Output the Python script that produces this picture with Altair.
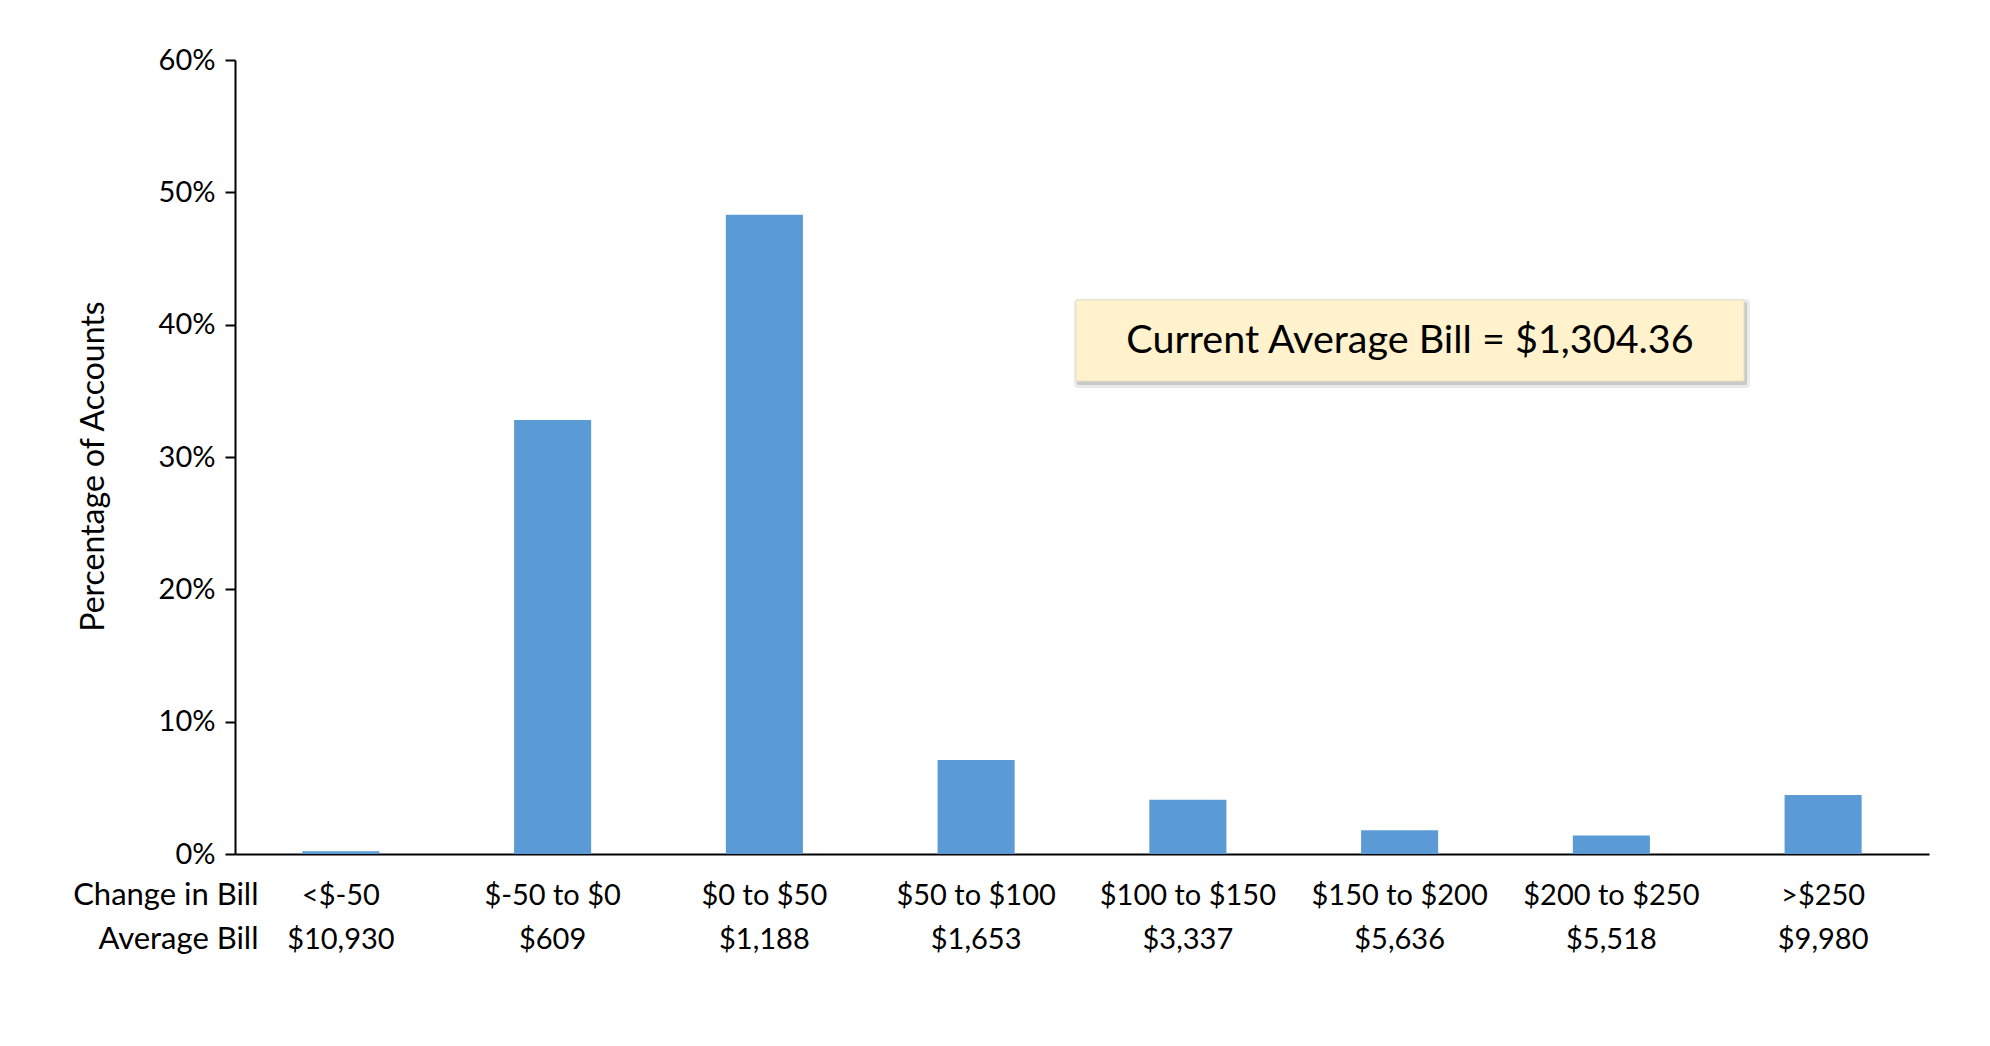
import altair as alt
import pandas as pd

change_in_bill = ["<$-50", "$-50 to $0", "$0 to $50", "$50 to $100",
                  "$100 to $150", "$150 to $200", "$200 to $250", ">$250"]
average_bill = ["$10,930", "$609", "$1,188", "$1,653",
                "$3,337", "$5,636", "$5,518", "$9,980"]
pct_accounts = [0.002, 0.328, 0.483, 0.071, 0.041, 0.018, 0.014, 0.0445]
callout_text = ["Current Average Bill = $1,304.36"]

df = pd.DataFrame({
    "label": [f"{c}|{a}" for c, a in zip(change_in_bill, average_bill)],
    "pct": pct_accounts,
})
order = list(df["label"])

FONT = "Lato"

bars = alt.Chart(df).mark_bar(color="#5B9BD5").encode(
    x=alt.X(
        "label:N",
        sort=order,
        scale=alt.Scale(paddingInner=0.636, paddingOuter=0.318),
        axis=alt.Axis(
            title=["Change in Bill", "Average Bill"],
            titleX=23, titleY=26, titleAlign="right", titleBaseline="top",
            titleAngle=0, titleFont=FONT, titleFontSize=31, titleFontWeight="normal",
            titleColor="black", titleLineHeight=44,
            labelExpr="split(datum.label, '|')",
            labelFont=FONT, labelFontSize=29, labelColor="black",
            labelLineHeight=44, labelBaseline="top", labelPadding=27,
            labelAngle=0, labelAlign="center",
            ticks=False, domainColor="black", domainWidth=2,
        ),
    ),
    y=alt.Y(
        "pct:Q",
        scale=alt.Scale(domain=[0, 0.6], nice=False),
        axis=alt.Axis(
            title="Percentage of Accounts",
            titleFont=FONT, titleFontSize=32, titleFontWeight="normal",
            titleColor="black", titleX=-142, titleY=406, titleBaseline="middle",
            titleAlign="center", titleAngle=270,
            format=".0%", values=[0, 0.1, 0.2, 0.3, 0.4, 0.5, 0.6],
            labelFont=FONT, labelFontSize=29, labelColor="black",
            labelPadding=10, tickSize=10, tickColor="black", tickWidth=2,
            domainColor="black", domainWidth=2, grid=False,
        ),
    ),
)

callout_df = pd.DataFrame({"text": callout_text})

shadow_outer = alt.Chart(callout_df).mark_rect(
    color="#8c8c8c", opacity=0.18, cornerRadius=4
).encode(
    x=alt.value(839), x2=alt.value(1515), y=alt.value(239), y2=alt.value(328)
)

shadow = alt.Chart(callout_df).mark_rect(
    color="#8c8c8c", opacity=0.35, cornerRadius=2
).encode(
    x=alt.value(842), x2=alt.value(1512), y=alt.value(242), y2=alt.value(325)
)

box = alt.Chart(callout_df).mark_rect(
    fill="#FFF2CC", stroke="#eadfc4", strokeWidth=1
).encode(
    x=alt.value(841), x2=alt.value(1509), y=alt.value(240), y2=alt.value(321)
)

callout = alt.Chart(callout_df).mark_text(
    font=FONT, fontSize=39.5, color="black", align="center", baseline="middle"
).encode(
    text="text:N", x=alt.value(1175), y=alt.value(281)
)

chart = alt.layer(bars, shadow_outer, shadow, box, callout).properties(
    width=1694,
    height=794,
    autosize=alt.AutoSizeParams(type="none"),
    padding={"left": 227, "top": 52, "right": 40, "bottom": 180},
).configure_view(stroke=None)

chart.save("out.html", embed_options={"renderer": "svg", "actions": False})
